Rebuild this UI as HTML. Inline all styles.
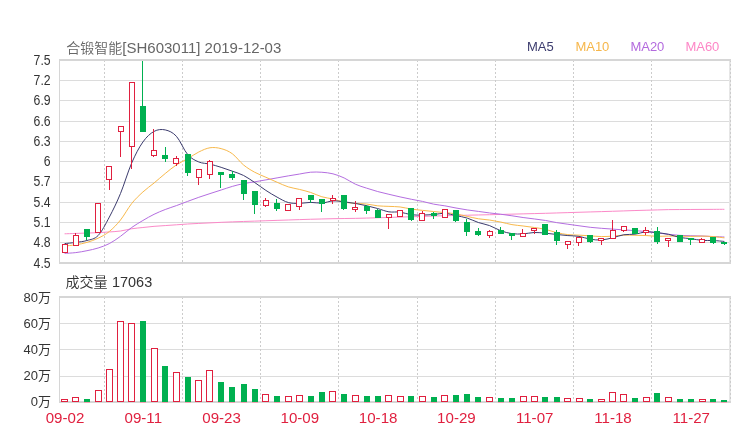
<!DOCTYPE html>
<html><head><meta charset="utf-8"><style>
html,body{margin:0;padding:0;background:#fff;}
body{width:740px;height:440px;overflow:hidden;}
svg{display:block;will-change:transform;}
text{font-family:'Liberation Sans', 'Noto Sans CJK SC', sans-serif;}
.yl{font-size:14.4px;fill:#333;}
.vl{font-size:13px;fill:#333;}
.xl{font-size:15.5px;fill:#e0203f;}
.title{font-size:15px;fill:#666;}
.vt{font-size:15px;fill:#333;}
.lg{font-size:13px;}
.cjk14{font-size:14px;font-weight:350;}
</style></head><body>
<svg width="740" height="440" viewBox="0 0 740 440">
<rect width="740" height="440" fill="#fff"/>
<rect x="60" y="80" width="669" height="1" fill="#dcdcdc"/>
<rect x="60" y="100" width="669" height="1" fill="#dcdcdc"/>
<rect x="60" y="121" width="669" height="1" fill="#dcdcdc"/>
<rect x="60" y="141" width="669" height="1" fill="#dcdcdc"/>
<rect x="60" y="161" width="669" height="1" fill="#dcdcdc"/>
<rect x="60" y="182" width="669" height="1" fill="#dcdcdc"/>
<rect x="60" y="202" width="669" height="1" fill="#dcdcdc"/>
<rect x="60" y="222" width="669" height="1" fill="#dcdcdc"/>
<rect x="60" y="242" width="669" height="1" fill="#dcdcdc"/>
<rect x="60" y="323" width="669" height="1" fill="#dcdcdc"/>
<rect x="60" y="349" width="669" height="1" fill="#dcdcdc"/>
<rect x="60" y="376" width="669" height="1" fill="#dcdcdc"/>
<rect x="729" y="59" width="2" height="205" fill="#e6e6e6"/>
<rect x="729" y="296" width="2" height="107" fill="#e6e6e6"/>
<line x1="104.5" y1="60" x2="104.5" y2="262" stroke="#cccccc" stroke-dasharray="2,2"/>
<line x1="104.5" y1="297" x2="104.5" y2="401" stroke="#cccccc" stroke-dasharray="2,2"/>
<line x1="182.5" y1="60" x2="182.5" y2="262" stroke="#cccccc" stroke-dasharray="2,2"/>
<line x1="182.5" y1="297" x2="182.5" y2="401" stroke="#cccccc" stroke-dasharray="2,2"/>
<line x1="260.5" y1="60" x2="260.5" y2="262" stroke="#cccccc" stroke-dasharray="2,2"/>
<line x1="260.5" y1="297" x2="260.5" y2="401" stroke="#cccccc" stroke-dasharray="2,2"/>
<line x1="338.5" y1="60" x2="338.5" y2="262" stroke="#cccccc" stroke-dasharray="2,2"/>
<line x1="338.5" y1="297" x2="338.5" y2="401" stroke="#cccccc" stroke-dasharray="2,2"/>
<line x1="417.5" y1="60" x2="417.5" y2="262" stroke="#cccccc" stroke-dasharray="2,2"/>
<line x1="417.5" y1="297" x2="417.5" y2="401" stroke="#cccccc" stroke-dasharray="2,2"/>
<line x1="495.5" y1="60" x2="495.5" y2="262" stroke="#cccccc" stroke-dasharray="2,2"/>
<line x1="495.5" y1="297" x2="495.5" y2="401" stroke="#cccccc" stroke-dasharray="2,2"/>
<line x1="573.5" y1="60" x2="573.5" y2="262" stroke="#cccccc" stroke-dasharray="2,2"/>
<line x1="573.5" y1="297" x2="573.5" y2="401" stroke="#cccccc" stroke-dasharray="2,2"/>
<line x1="651.5" y1="60" x2="651.5" y2="262" stroke="#cccccc" stroke-dasharray="2,2"/>
<line x1="651.5" y1="297" x2="651.5" y2="401" stroke="#cccccc" stroke-dasharray="2,2"/>
<line x1="730.5" y1="60" x2="730.5" y2="262" stroke="#cccccc" stroke-dasharray="2,2"/>
<line x1="730.5" y1="297" x2="730.5" y2="401" stroke="#cccccc" stroke-dasharray="2,2"/>
<rect x="59" y="59" width="672" height="2" fill="#d6d6d6"/>
<rect x="59" y="262" width="672" height="2" fill="#d6d6d6"/>
<rect x="59" y="59" width="1" height="205" fill="#d6d6d6"/>
<rect x="59" y="296" width="672" height="2" fill="#d6d6d6"/>
<rect x="59" y="401" width="672" height="2" fill="#d6d6d6"/>
<rect x="59" y="296" width="1" height="107" fill="#d6d6d6"/>
<path d="M64.59,233.80 C66.46,233.74 72.05,233.56 75.78,233.43 C79.50,233.31 83.23,233.17 86.96,233.05 C90.69,232.92 94.41,232.84 98.14,232.66 C101.87,232.48 105.60,232.24 109.33,231.96 C113.05,231.68 116.78,231.53 120.51,231.00 C124.24,230.47 127.96,229.36 131.69,228.78 C135.42,228.20 139.15,227.90 142.88,227.50 C146.60,227.09 150.33,226.66 154.06,226.33 C157.79,226.01 161.51,225.83 165.24,225.57 C168.97,225.31 172.70,225.06 176.43,224.80 C180.15,224.54 183.88,224.23 187.61,224.00 C191.34,223.77 195.06,223.61 198.79,223.42 C202.52,223.24 206.25,223.06 209.97,222.88 C213.70,222.70 217.43,222.50 221.16,222.33 C224.89,222.16 228.61,222.00 232.34,221.86 C236.07,221.71 239.80,221.61 243.53,221.48 C247.25,221.36 250.98,221.23 254.71,221.11 C258.44,220.99 262.16,220.86 265.89,220.74 C269.62,220.61 273.35,220.49 277.08,220.36 C280.80,220.24 284.53,220.12 288.26,219.99 C291.99,219.87 295.71,219.74 299.44,219.62 C303.17,219.50 306.90,219.37 310.62,219.26 C314.35,219.15 318.08,219.07 321.81,218.98 C325.54,218.89 329.26,218.78 332.99,218.70 C336.72,218.62 340.45,218.59 344.18,218.53 C347.90,218.47 351.63,218.43 355.36,218.36 C359.09,218.28 362.81,218.18 366.54,218.08 C370.27,217.98 374.00,217.86 377.73,217.75 C381.45,217.64 385.18,217.53 388.91,217.42 C392.64,217.31 396.36,217.20 400.09,217.09 C403.82,216.98 407.55,216.87 411.28,216.76 C415.00,216.65 418.73,216.54 422.46,216.42 C426.19,216.31 429.91,216.18 433.64,216.06 C437.37,215.94 441.10,215.81 444.82,215.71 C448.55,215.60 452.28,215.54 456.01,215.46 C459.74,215.37 463.46,215.29 467.19,215.21 C470.92,215.12 474.65,215.04 478.38,214.96 C482.10,214.88 485.83,214.80 489.56,214.71 C493.29,214.62 497.01,214.52 500.74,214.43 C504.47,214.34 508.20,214.25 511.93,214.15 C515.65,214.06 519.38,213.97 523.11,213.87 C526.84,213.78 530.56,213.69 534.29,213.59 C538.02,213.50 541.75,213.42 545.48,213.31 C549.20,213.21 552.93,213.08 556.66,212.96 C560.39,212.84 564.11,212.72 567.84,212.61 C571.57,212.49 575.30,212.39 579.02,212.28 C582.75,212.17 586.48,212.06 590.21,211.95 C593.94,211.84 597.66,211.73 601.39,211.62 C605.12,211.51 608.85,211.40 612.58,211.28 C616.30,211.16 620.03,211.03 623.76,210.91 C627.49,210.78 631.21,210.65 634.94,210.54 C638.67,210.42 642.40,210.33 646.12,210.22 C649.85,210.12 653.58,210.02 657.31,209.92 C661.04,209.82 664.76,209.68 668.49,209.61 C672.22,209.55 675.95,209.56 679.68,209.54 C683.40,209.52 687.13,209.50 690.86,209.48 C694.59,209.46 698.31,209.44 702.04,209.42 C705.77,209.40 709.50,209.38 713.23,209.36 C716.95,209.34 722.54,209.31 724.41,209.30" fill="none" stroke="#fb8ac8" stroke-width="1"/>
<path d="M64.59,253.40 C66.46,253.27 72.05,253.05 75.78,252.60 C79.50,252.15 83.23,251.47 86.96,250.70 C90.69,249.93 94.41,249.18 98.14,248.00 C101.87,246.82 105.60,245.55 109.33,243.60 C113.05,241.65 116.78,238.98 120.51,236.30 C124.24,233.62 127.96,230.13 131.69,227.50 C135.42,224.87 139.15,222.70 142.88,220.50 C146.60,218.30 150.33,216.13 154.06,214.30 C157.79,212.47 161.51,210.95 165.24,209.50 C168.97,208.05 172.70,206.95 176.43,205.60 C180.15,204.25 183.88,202.78 187.61,201.40 C191.34,200.02 195.06,198.60 198.79,197.30 C202.52,196.00 206.25,194.82 209.97,193.60 C213.70,192.38 217.43,191.20 221.16,190.00 C224.89,188.80 228.61,187.47 232.34,186.40 C236.07,185.33 239.80,184.37 243.53,183.60 C247.25,182.83 250.98,182.42 254.71,181.80 C258.44,181.18 262.16,180.55 265.89,179.90 C269.62,179.25 273.35,178.55 277.08,177.88 C280.80,177.20 284.53,176.51 288.26,175.88 C291.99,175.24 295.71,174.67 299.44,174.06 C303.17,173.45 306.90,172.52 310.62,172.21 C314.35,171.91 318.08,171.99 321.81,172.25 C325.54,172.52 329.26,172.88 332.99,173.83 C336.72,174.78 340.45,176.24 344.18,177.96 C347.90,179.69 351.63,182.48 355.36,184.18 C359.09,185.88 362.81,186.91 366.54,188.13 C370.27,189.36 374.00,190.52 377.73,191.55 C381.45,192.57 385.18,193.42 388.91,194.31 C392.64,195.20 396.36,196.08 400.09,196.90 C403.82,197.73 407.55,198.50 411.28,199.25 C415.00,200.00 418.73,200.59 422.46,201.40 C426.19,202.22 429.91,203.40 433.64,204.14 C437.37,204.88 441.10,205.18 444.82,205.82 C448.55,206.47 452.28,207.33 456.01,208.01 C459.74,208.69 463.46,209.34 467.19,209.91 C470.92,210.47 474.65,210.90 478.38,211.41 C482.10,211.91 485.83,212.47 489.56,212.94 C493.29,213.40 497.01,213.74 500.74,214.22 C504.47,214.70 508.20,215.24 511.93,215.79 C515.65,216.34 519.38,217.01 523.11,217.53 C526.84,218.06 530.56,218.45 534.29,218.94 C538.02,219.42 541.75,219.85 545.48,220.46 C549.20,221.07 552.93,221.98 556.66,222.61 C560.39,223.24 564.11,223.70 567.84,224.23 C571.57,224.76 575.30,225.25 579.02,225.77 C582.75,226.28 586.48,226.89 590.21,227.31 C593.94,227.73 597.66,228.01 601.39,228.30 C605.12,228.60 608.85,228.84 612.58,229.10 C616.30,229.37 620.03,229.64 623.76,229.89 C627.49,230.15 631.21,230.36 634.94,230.63 C638.67,230.90 642.40,231.15 646.12,231.52 C649.85,231.89 653.58,232.38 657.31,232.85 C661.04,233.32 664.76,233.91 668.49,234.33 C672.22,234.75 675.95,235.11 679.68,235.35 C683.40,235.60 687.13,235.67 690.86,235.78 C694.59,235.88 698.31,235.86 702.04,235.99 C705.77,236.12 709.50,236.41 713.23,236.58 C716.95,236.75 722.54,236.93 724.41,237.00" fill="none" stroke="#b46ee0" stroke-width="1"/>
<path d="M64.59,246.00 C66.46,245.80 72.05,245.40 75.78,244.80 C79.50,244.20 83.23,243.50 86.96,242.40 C90.69,241.30 94.41,240.02 98.14,238.20 C101.87,236.38 105.60,234.53 109.33,231.50 C113.05,228.47 116.78,224.67 120.51,220.00 C124.24,215.33 127.96,208.17 131.69,203.50 C135.42,198.83 139.15,195.42 142.88,192.00 C146.60,188.58 150.33,186.08 154.06,183.00 C157.79,179.92 161.51,176.53 165.24,173.51 C168.97,170.49 172.70,167.37 176.43,164.90 C180.15,162.43 183.88,160.86 187.61,158.71 C191.34,156.56 195.06,153.82 198.79,151.99 C202.52,150.17 206.25,148.32 209.97,147.76 C213.70,147.20 217.43,147.63 221.16,148.63 C224.89,149.63 228.61,151.03 232.34,153.75 C236.07,156.47 239.80,161.87 243.53,164.95 C247.25,168.03 250.98,170.19 254.71,172.24 C258.44,174.29 262.16,175.59 265.89,177.26 C269.62,178.93 273.35,180.64 277.08,182.24 C280.80,183.84 284.53,185.66 288.26,186.85 C291.99,188.05 295.71,188.48 299.44,189.41 C303.17,190.34 306.90,191.22 310.62,192.44 C314.35,193.66 318.08,195.65 321.81,196.75 C325.54,197.85 329.26,198.13 332.99,199.03 C336.72,199.93 340.45,201.44 344.18,202.17 C347.90,202.90 351.63,203.10 355.36,203.41 C359.09,203.72 362.81,203.63 366.54,204.03 C370.27,204.43 374.00,205.44 377.73,205.83 C381.45,206.22 385.18,206.19 388.91,206.38 C392.64,206.57 396.36,206.51 400.09,206.96 C403.82,207.41 407.55,208.51 411.28,209.08 C415.00,209.65 418.73,209.96 422.46,210.37 C426.19,210.78 429.91,211.16 433.64,211.53 C437.37,211.90 441.10,212.22 444.82,212.61 C448.55,213.00 452.28,213.22 456.01,213.85 C459.74,214.48 463.46,215.58 467.19,216.40 C470.92,217.22 474.65,218.17 478.38,218.78 C482.10,219.39 485.83,219.49 489.56,220.04 C493.29,220.59 497.01,221.30 500.74,222.06 C504.47,222.82 508.20,223.97 511.93,224.62 C515.65,225.28 519.38,225.51 523.11,225.99 C526.84,226.47 530.56,226.93 534.29,227.50 C538.02,228.07 541.75,228.54 545.48,229.39 C549.20,230.24 552.93,231.74 556.66,232.61 C560.39,233.48 564.11,234.19 567.84,234.61 C571.57,235.03 575.30,234.93 579.02,235.13 C582.75,235.34 586.48,235.60 590.21,235.84 C593.94,236.08 597.66,236.52 601.39,236.57 C605.12,236.62 608.85,236.37 612.58,236.14 C616.30,235.91 620.03,235.31 623.76,235.17 C627.49,235.02 631.21,235.21 634.94,235.27 C638.67,235.33 642.40,235.37 646.12,235.54 C649.85,235.71 653.58,236.23 657.31,236.31 C661.04,236.40 664.76,236.09 668.49,236.05 C672.22,236.02 675.95,236.04 679.68,236.10 C683.40,236.16 687.13,236.41 690.86,236.42 C694.59,236.43 698.31,236.11 702.04,236.14 C705.77,236.17 709.50,236.30 713.23,236.59 C716.95,236.88 722.54,237.66 724.41,237.87" fill="none" stroke="#f8b94c" stroke-width="1"/>
<path d="M64.59,243.60 C66.46,243.40 72.05,242.92 75.78,242.40 C79.50,241.88 83.23,241.65 86.96,240.50 C90.69,239.35 94.41,239.40 98.14,235.50 C101.87,231.60 105.60,224.10 109.33,217.10 C113.05,210.10 116.78,202.50 120.51,193.48 C124.24,184.46 127.96,171.54 131.69,162.96 C135.42,154.38 139.15,147.28 142.88,142.02 C146.60,136.76 150.33,133.42 154.06,131.40 C157.79,129.38 161.51,129.10 165.24,129.92 C168.97,130.74 172.70,132.23 176.43,136.32 C180.15,140.41 183.88,150.19 187.61,154.46 C191.34,158.73 195.06,160.35 198.79,161.96 C202.52,163.57 206.25,163.22 209.97,164.12 C213.70,165.02 217.43,166.16 221.16,167.34 C224.89,168.52 228.61,169.83 232.34,171.18 C236.07,172.53 239.80,173.55 243.53,175.44 C247.25,177.33 250.98,180.03 254.71,182.52 C258.44,185.01 262.16,187.96 265.89,190.40 C269.62,192.84 273.35,195.12 277.08,197.14 C280.80,199.16 284.53,201.48 288.26,202.52 C291.99,203.56 295.71,203.41 299.44,203.38 C303.17,203.35 306.90,202.41 310.62,202.36 C314.35,202.31 318.08,203.34 321.81,203.10 C325.54,202.86 329.26,201.13 332.99,200.92 C336.72,200.71 340.45,201.40 344.18,201.82 C347.90,202.24 351.63,202.79 355.36,203.44 C359.09,204.09 362.81,204.85 366.54,205.70 C370.27,206.55 374.00,207.54 377.73,208.56 C381.45,209.58 385.18,211.25 388.91,211.84 C392.64,212.43 396.36,211.62 400.09,212.10 C403.82,212.58 407.55,214.23 411.28,214.72 C415.00,215.21 418.73,215.08 422.46,215.04 C426.19,215.00 429.91,214.78 433.64,214.50 C437.37,214.22 441.10,213.20 444.82,213.38 C448.55,213.56 452.28,214.82 456.01,215.60 C459.74,216.38 463.46,216.93 467.19,218.08 C470.92,219.23 474.65,221.27 478.38,222.52 C482.10,223.77 485.83,224.21 489.56,225.58 C493.29,226.95 497.01,229.40 500.74,230.74 C504.47,232.08 508.20,233.11 511.93,233.64 C515.65,234.17 519.38,234.09 523.11,233.90 C526.84,233.71 530.56,232.60 534.29,232.48 C538.02,232.36 541.75,232.87 545.48,233.20 C549.20,233.53 552.93,234.08 556.66,234.48 C560.39,234.88 564.11,235.27 567.84,235.58 C571.57,235.89 575.30,235.76 579.02,236.36 C582.75,236.96 586.48,238.60 590.21,239.20 C593.94,239.80 597.66,240.17 601.39,239.94 C605.12,239.71 608.85,238.66 612.58,237.80 C616.30,236.94 620.03,235.36 623.76,234.76 C627.49,234.16 631.21,234.66 634.94,234.18 C638.67,233.70 642.40,232.13 646.12,231.88 C649.85,231.63 653.58,232.28 657.31,232.68 C661.04,233.08 664.76,233.51 668.49,234.30 C672.22,235.09 675.95,236.71 679.68,237.44 C683.40,238.17 687.13,238.17 690.86,238.66 C694.59,239.15 698.31,240.09 702.04,240.40 C705.77,240.71 709.50,240.33 713.23,240.50 C716.95,240.67 722.54,241.28 724.41,241.44" fill="none" stroke="#3c3c6e" stroke-width="1"/>
<rect x="64.0" y="252.0" width="1" height="1.0" fill="#e0203f"/>
<rect x="62.5" y="244.5" width="5" height="8.0" fill="#fff" stroke="#e0203f" stroke-width="1"/>
<rect x="75.0" y="233.0" width="1" height="2.0" fill="#e0203f"/>
<rect x="73.5" y="235.5" width="5" height="10.0" fill="#fff" stroke="#e0203f" stroke-width="1"/>
<rect x="86.0" y="229" width="1" height="11" fill="#00b050"/>
<rect x="84" y="229" width="6" height="8" fill="#00b050"/>
<rect x="95.5" y="203.5" width="5" height="29.0" fill="#fff" stroke="#e0203f" stroke-width="1"/>
<rect x="109.0" y="179.0" width="1" height="11.0" fill="#e0203f"/>
<rect x="106.5" y="166.5" width="5" height="13.0" fill="#fff" stroke="#e0203f" stroke-width="1"/>
<rect x="120.0" y="131.0" width="1" height="26.0" fill="#e0203f"/>
<rect x="118.5" y="126.5" width="5" height="5.0" fill="#fff" stroke="#e0203f" stroke-width="1"/>
<rect x="131.0" y="146.0" width="1" height="23.0" fill="#e0203f"/>
<rect x="129.5" y="82.5" width="5" height="64.0" fill="#fff" stroke="#e0203f" stroke-width="1"/>
<rect x="142.0" y="61" width="1" height="71" fill="#00b050"/>
<rect x="140" y="106" width="6" height="26" fill="#00b050"/>
<rect x="153.0" y="129.0" width="1" height="21.0" fill="#e0203f"/>
<rect x="153.0" y="155.0" width="1" height="2.0" fill="#e0203f"/>
<rect x="151.5" y="150.5" width="5" height="5.0" fill="#fff" stroke="#e0203f" stroke-width="1"/>
<rect x="165.0" y="147" width="1" height="15" fill="#00b050"/>
<rect x="162" y="155" width="6" height="4" fill="#00b050"/>
<rect x="176.0" y="156.0" width="1" height="2.0" fill="#e0203f"/>
<rect x="176.0" y="163.0" width="1" height="3.0" fill="#e0203f"/>
<rect x="173.5" y="158.5" width="5" height="5.0" fill="#fff" stroke="#e0203f" stroke-width="1"/>
<rect x="187.0" y="154" width="1" height="22" fill="#00b050"/>
<rect x="185" y="154" width="6" height="19" fill="#00b050"/>
<rect x="198.0" y="177.0" width="1" height="8.0" fill="#e0203f"/>
<rect x="196.5" y="169.5" width="5" height="8.0" fill="#fff" stroke="#e0203f" stroke-width="1"/>
<rect x="209.0" y="160.0" width="1" height="1.0" fill="#e0203f"/>
<rect x="209.0" y="174.0" width="1" height="5.0" fill="#e0203f"/>
<rect x="207.5" y="161.5" width="5" height="13.0" fill="#fff" stroke="#e0203f" stroke-width="1"/>
<rect x="220.0" y="172" width="1" height="16" fill="#00b050"/>
<rect x="218" y="172" width="6" height="3" fill="#00b050"/>
<rect x="232.0" y="171" width="1" height="9" fill="#00b050"/>
<rect x="229" y="174" width="6" height="4" fill="#00b050"/>
<rect x="243.0" y="180" width="1" height="20" fill="#00b050"/>
<rect x="241" y="180" width="6" height="14" fill="#00b050"/>
<rect x="254.0" y="191" width="1" height="23" fill="#00b050"/>
<rect x="252" y="191" width="6" height="14" fill="#00b050"/>
<rect x="265.0" y="198.0" width="1" height="2.0" fill="#e0203f"/>
<rect x="265.0" y="205.0" width="1" height="2.0" fill="#e0203f"/>
<rect x="263.5" y="200.5" width="5" height="5.0" fill="#fff" stroke="#e0203f" stroke-width="1"/>
<rect x="276.0" y="199" width="1" height="12" fill="#00b050"/>
<rect x="274" y="203" width="6" height="6" fill="#00b050"/>
<rect x="288.0" y="210.0" width="1" height="1.0" fill="#e0203f"/>
<rect x="285.5" y="204.5" width="5" height="6.0" fill="#fff" stroke="#e0203f" stroke-width="1"/>
<rect x="299.0" y="206.0" width="1" height="4.0" fill="#e0203f"/>
<rect x="296.5" y="198.5" width="5" height="8.0" fill="#fff" stroke="#e0203f" stroke-width="1"/>
<rect x="310.0" y="195" width="1" height="8" fill="#00b050"/>
<rect x="308" y="195" width="6" height="5" fill="#00b050"/>
<rect x="321.0" y="199" width="1" height="13" fill="#00b050"/>
<rect x="319" y="199" width="6" height="5" fill="#00b050"/>
<rect x="332.0" y="195.0" width="1" height="3.0" fill="#e0203f"/>
<rect x="332.0" y="200.0" width="1" height="4.0" fill="#e0203f"/>
<rect x="330.5" y="198.5" width="5" height="2.0" fill="#fff" stroke="#e0203f" stroke-width="1"/>
<rect x="343.0" y="195" width="1" height="15" fill="#00b050"/>
<rect x="341" y="195" width="6" height="14" fill="#00b050"/>
<rect x="355.0" y="201.0" width="1" height="6.0" fill="#e0203f"/>
<rect x="355.0" y="209.0" width="1" height="3.0" fill="#e0203f"/>
<rect x="352.5" y="207.5" width="5" height="2.0" fill="#fff" stroke="#e0203f" stroke-width="1"/>
<rect x="366.0" y="205" width="1" height="9" fill="#00b050"/>
<rect x="364" y="206" width="6" height="5" fill="#00b050"/>
<rect x="377.0" y="209" width="1" height="9" fill="#00b050"/>
<rect x="375" y="210" width="6" height="8" fill="#00b050"/>
<rect x="388.0" y="217.0" width="1" height="12.0" fill="#e0203f"/>
<rect x="386.5" y="214.5" width="5" height="3.0" fill="#fff" stroke="#e0203f" stroke-width="1"/>
<rect x="397.5" y="210.5" width="5" height="6.0" fill="#fff" stroke="#e0203f" stroke-width="1"/>
<rect x="411.0" y="208" width="1" height="13" fill="#00b050"/>
<rect x="408" y="208" width="6" height="12" fill="#00b050"/>
<rect x="422.0" y="211.0" width="1" height="2.0" fill="#e0203f"/>
<rect x="419.5" y="213.5" width="5" height="7.0" fill="#fff" stroke="#e0203f" stroke-width="1"/>
<rect x="433.0" y="212" width="1" height="7" fill="#00b050"/>
<rect x="431" y="213" width="6" height="3" fill="#00b050"/>
<rect x="442.5" y="209.5" width="5" height="8.0" fill="#fff" stroke="#e0203f" stroke-width="1"/>
<rect x="455.0" y="210" width="1" height="12" fill="#00b050"/>
<rect x="453" y="210" width="6" height="11" fill="#00b050"/>
<rect x="466.0" y="219" width="1" height="17" fill="#00b050"/>
<rect x="464" y="222" width="6" height="10" fill="#00b050"/>
<rect x="478.0" y="228" width="1" height="8" fill="#00b050"/>
<rect x="475" y="231" width="6" height="4" fill="#00b050"/>
<rect x="489.0" y="230.0" width="1" height="1.0" fill="#e0203f"/>
<rect x="489.0" y="235.0" width="1" height="3.0" fill="#e0203f"/>
<rect x="487.5" y="231.5" width="5" height="4.0" fill="#fff" stroke="#e0203f" stroke-width="1"/>
<rect x="500.0" y="227" width="1" height="7" fill="#00b050"/>
<rect x="498" y="230" width="6" height="4" fill="#00b050"/>
<rect x="511.0" y="233" width="1" height="7" fill="#00b050"/>
<rect x="509" y="233" width="6" height="3" fill="#00b050"/>
<rect x="522.0" y="229.0" width="1" height="4.0" fill="#e0203f"/>
<rect x="520.5" y="233.5" width="5" height="3.0" fill="#fff" stroke="#e0203f" stroke-width="1"/>
<rect x="534.0" y="230.0" width="1" height="4.0" fill="#e0203f"/>
<rect x="531.5" y="228.5" width="5" height="2.0" fill="#fff" stroke="#e0203f" stroke-width="1"/>
<rect x="545.0" y="224" width="1" height="11" fill="#00b050"/>
<rect x="542" y="224" width="6" height="11" fill="#00b050"/>
<rect x="556.0" y="230" width="1" height="15" fill="#00b050"/>
<rect x="554" y="232" width="6" height="9" fill="#00b050"/>
<rect x="567.0" y="244.0" width="1" height="5.0" fill="#e0203f"/>
<rect x="565.5" y="241.5" width="5" height="3.0" fill="#fff" stroke="#e0203f" stroke-width="1"/>
<rect x="578.0" y="242.0" width="1" height="4.0" fill="#e0203f"/>
<rect x="576.5" y="237.5" width="5" height="5.0" fill="#fff" stroke="#e0203f" stroke-width="1"/>
<rect x="590.0" y="235" width="1" height="8" fill="#00b050"/>
<rect x="587" y="235" width="6" height="7" fill="#00b050"/>
<rect x="601.0" y="238.0" width="1" height="0.0" fill="#e0203f"/>
<rect x="601.0" y="240.0" width="1" height="5.0" fill="#e0203f"/>
<rect x="598.5" y="238.5" width="5" height="2.0" fill="#fff" stroke="#e0203f" stroke-width="1"/>
<rect x="612.0" y="220.0" width="1" height="10.0" fill="#e0203f"/>
<rect x="610.5" y="230.5" width="5" height="8.0" fill="#fff" stroke="#e0203f" stroke-width="1"/>
<rect x="623.0" y="230.0" width="1" height="2.0" fill="#e0203f"/>
<rect x="621.5" y="226.5" width="5" height="4.0" fill="#fff" stroke="#e0203f" stroke-width="1"/>
<rect x="634.0" y="228" width="1" height="6" fill="#00b050"/>
<rect x="632" y="228" width="6" height="6" fill="#00b050"/>
<rect x="645.0" y="227.0" width="1" height="3.0" fill="#e0203f"/>
<rect x="645.0" y="232.0" width="1" height="3.0" fill="#e0203f"/>
<rect x="643.5" y="230.5" width="5" height="2.0" fill="#fff" stroke="#e0203f" stroke-width="1"/>
<rect x="657.0" y="227" width="1" height="17" fill="#00b050"/>
<rect x="654" y="231" width="6" height="11" fill="#00b050"/>
<rect x="668.0" y="240.0" width="1" height="7.0" fill="#e0203f"/>
<rect x="665.5" y="238.5" width="5" height="2.0" fill="#fff" stroke="#e0203f" stroke-width="1"/>
<rect x="679.0" y="235" width="1" height="7" fill="#00b050"/>
<rect x="677" y="235" width="6" height="7" fill="#00b050"/>
<rect x="690.0" y="238" width="1" height="7" fill="#00b050"/>
<rect x="688" y="238" width="6" height="2" fill="#00b050"/>
<rect x="701.0" y="238.0" width="1" height="1.0" fill="#e0203f"/>
<rect x="699.5" y="239.5" width="5" height="3.0" fill="#fff" stroke="#e0203f" stroke-width="1"/>
<rect x="713.0" y="237" width="1" height="7" fill="#00b050"/>
<rect x="710" y="237" width="6" height="6" fill="#00b050"/>
<rect x="724.0" y="242" width="1" height="3" fill="#00b050"/>
<rect x="721" y="242" width="6" height="2" fill="#00b050"/>
<rect x="61.5" y="399.5" width="6" height="2" fill="#fff" stroke="#e0203f" stroke-width="1"/>
<rect x="72.5" y="397.5" width="6" height="4" fill="#fff" stroke="#e0203f" stroke-width="1"/>
<rect x="84" y="399" width="6" height="3" fill="#00b050"/>
<rect x="84" y="402" width="6" height="1" fill="#f3a3b3"/>
<rect x="95.5" y="390.5" width="6" height="11" fill="#fff" stroke="#e0203f" stroke-width="1"/>
<rect x="106.5" y="369.5" width="6" height="32" fill="#fff" stroke="#e0203f" stroke-width="1"/>
<rect x="117.5" y="321.5" width="6" height="80" fill="#fff" stroke="#e0203f" stroke-width="1"/>
<rect x="128.5" y="323.5" width="6" height="78" fill="#fff" stroke="#e0203f" stroke-width="1"/>
<rect x="140" y="321" width="6" height="81" fill="#00b050"/>
<rect x="140" y="402" width="6" height="1" fill="#f3a3b3"/>
<rect x="151.5" y="348.5" width="6" height="53" fill="#fff" stroke="#e0203f" stroke-width="1"/>
<rect x="162" y="366" width="6" height="36" fill="#00b050"/>
<rect x="162" y="402" width="6" height="1" fill="#f3a3b3"/>
<rect x="173.5" y="372.5" width="6" height="29" fill="#fff" stroke="#e0203f" stroke-width="1"/>
<rect x="185" y="377" width="6" height="25" fill="#00b050"/>
<rect x="185" y="402" width="6" height="1" fill="#f3a3b3"/>
<rect x="195.5" y="380.5" width="6" height="21" fill="#fff" stroke="#e0203f" stroke-width="1"/>
<rect x="206.5" y="370.5" width="6" height="31" fill="#fff" stroke="#e0203f" stroke-width="1"/>
<rect x="218" y="382" width="6" height="20" fill="#00b050"/>
<rect x="218" y="402" width="6" height="1" fill="#f3a3b3"/>
<rect x="229" y="387" width="6" height="15" fill="#00b050"/>
<rect x="229" y="402" width="6" height="1" fill="#f3a3b3"/>
<rect x="241" y="384" width="6" height="18" fill="#00b050"/>
<rect x="241" y="402" width="6" height="1" fill="#f3a3b3"/>
<rect x="252" y="389" width="6" height="13" fill="#00b050"/>
<rect x="252" y="402" width="6" height="1" fill="#f3a3b3"/>
<rect x="262.5" y="394.5" width="6" height="7" fill="#fff" stroke="#e0203f" stroke-width="1"/>
<rect x="274" y="396" width="6" height="6" fill="#00b050"/>
<rect x="274" y="402" width="6" height="1" fill="#f3a3b3"/>
<rect x="285.5" y="396.5" width="6" height="5" fill="#fff" stroke="#e0203f" stroke-width="1"/>
<rect x="296.5" y="395.5" width="6" height="6" fill="#fff" stroke="#e0203f" stroke-width="1"/>
<rect x="308" y="396" width="6" height="6" fill="#00b050"/>
<rect x="308" y="402" width="6" height="1" fill="#f3a3b3"/>
<rect x="319" y="392" width="6" height="10" fill="#00b050"/>
<rect x="319" y="402" width="6" height="1" fill="#f3a3b3"/>
<rect x="329.5" y="391.5" width="6" height="10" fill="#fff" stroke="#e0203f" stroke-width="1"/>
<rect x="341" y="394" width="6" height="8" fill="#00b050"/>
<rect x="341" y="402" width="6" height="1" fill="#f3a3b3"/>
<rect x="352.5" y="395.5" width="6" height="6" fill="#fff" stroke="#e0203f" stroke-width="1"/>
<rect x="364" y="396" width="6" height="6" fill="#00b050"/>
<rect x="364" y="402" width="6" height="1" fill="#f3a3b3"/>
<rect x="375" y="396" width="6" height="6" fill="#00b050"/>
<rect x="375" y="402" width="6" height="1" fill="#f3a3b3"/>
<rect x="385.5" y="395.5" width="6" height="6" fill="#fff" stroke="#e0203f" stroke-width="1"/>
<rect x="397.5" y="396.5" width="6" height="5" fill="#fff" stroke="#e0203f" stroke-width="1"/>
<rect x="408" y="396" width="6" height="6" fill="#00b050"/>
<rect x="408" y="402" width="6" height="1" fill="#f3a3b3"/>
<rect x="419.5" y="396.5" width="6" height="5" fill="#fff" stroke="#e0203f" stroke-width="1"/>
<rect x="431" y="397" width="6" height="5" fill="#00b050"/>
<rect x="431" y="402" width="6" height="1" fill="#f3a3b3"/>
<rect x="441.5" y="395.5" width="6" height="6" fill="#fff" stroke="#e0203f" stroke-width="1"/>
<rect x="453" y="395" width="6" height="7" fill="#00b050"/>
<rect x="453" y="402" width="6" height="1" fill="#f3a3b3"/>
<rect x="464" y="394" width="6" height="8" fill="#00b050"/>
<rect x="464" y="402" width="6" height="1" fill="#f3a3b3"/>
<rect x="475" y="397" width="6" height="5" fill="#00b050"/>
<rect x="475" y="402" width="6" height="1" fill="#f3a3b3"/>
<rect x="486.5" y="397.5" width="6" height="4" fill="#fff" stroke="#e0203f" stroke-width="1"/>
<rect x="498" y="398" width="6" height="4" fill="#00b050"/>
<rect x="498" y="402" width="6" height="1" fill="#f3a3b3"/>
<rect x="509" y="398" width="6" height="4" fill="#00b050"/>
<rect x="509" y="402" width="6" height="1" fill="#f3a3b3"/>
<rect x="520.5" y="396.5" width="6" height="5" fill="#fff" stroke="#e0203f" stroke-width="1"/>
<rect x="531.5" y="396.5" width="6" height="5" fill="#fff" stroke="#e0203f" stroke-width="1"/>
<rect x="542" y="397" width="6" height="5" fill="#00b050"/>
<rect x="542" y="402" width="6" height="1" fill="#f3a3b3"/>
<rect x="554" y="397" width="6" height="5" fill="#00b050"/>
<rect x="554" y="402" width="6" height="1" fill="#f3a3b3"/>
<rect x="564.5" y="398.5" width="6" height="3" fill="#fff" stroke="#e0203f" stroke-width="1"/>
<rect x="576.5" y="398.5" width="6" height="3" fill="#fff" stroke="#e0203f" stroke-width="1"/>
<rect x="587" y="399" width="6" height="3" fill="#00b050"/>
<rect x="587" y="402" width="6" height="1" fill="#f3a3b3"/>
<rect x="598.5" y="399.5" width="6" height="2" fill="#fff" stroke="#e0203f" stroke-width="1"/>
<rect x="609.5" y="392.5" width="6" height="9" fill="#fff" stroke="#e0203f" stroke-width="1"/>
<rect x="620.5" y="394.5" width="6" height="7" fill="#fff" stroke="#e0203f" stroke-width="1"/>
<rect x="632" y="398" width="6" height="4" fill="#00b050"/>
<rect x="632" y="402" width="6" height="1" fill="#f3a3b3"/>
<rect x="643.5" y="397.5" width="6" height="4" fill="#fff" stroke="#e0203f" stroke-width="1"/>
<rect x="654" y="393" width="6" height="9" fill="#00b050"/>
<rect x="654" y="402" width="6" height="1" fill="#f3a3b3"/>
<rect x="665.5" y="397.5" width="6" height="4" fill="#fff" stroke="#e0203f" stroke-width="1"/>
<rect x="677" y="399" width="6" height="3" fill="#00b050"/>
<rect x="677" y="402" width="6" height="1" fill="#f3a3b3"/>
<rect x="688" y="399" width="6" height="3" fill="#00b050"/>
<rect x="688" y="402" width="6" height="1" fill="#f3a3b3"/>
<rect x="699.5" y="399.5" width="6" height="2" fill="#fff" stroke="#e0203f" stroke-width="1"/>
<rect x="710" y="399" width="6" height="3" fill="#00b050"/>
<rect x="710" y="402" width="6" height="1" fill="#f3a3b3"/>
<rect x="721" y="400" width="6" height="2" fill="#00b050"/>
<rect x="721" y="402" width="6" height="1" fill="#f3a3b3"/>
<text transform="translate(50.6,64.60) scale(0.85,1)" text-anchor="end" class="yl">7.5</text>
<text transform="translate(50.6,84.90) scale(0.85,1)" text-anchor="end" class="yl">7.2</text>
<text transform="translate(50.6,105.20) scale(0.85,1)" text-anchor="end" class="yl">6.9</text>
<text transform="translate(50.6,125.50) scale(0.85,1)" text-anchor="end" class="yl">6.6</text>
<text transform="translate(50.6,145.80) scale(0.85,1)" text-anchor="end" class="yl">6.3</text>
<text transform="translate(50.6,166.10) scale(0.85,1)" text-anchor="end" class="yl">6</text>
<text transform="translate(50.6,186.40) scale(0.85,1)" text-anchor="end" class="yl">5.7</text>
<text transform="translate(50.6,206.70) scale(0.85,1)" text-anchor="end" class="yl">5.4</text>
<text transform="translate(50.6,227.00) scale(0.85,1)" text-anchor="end" class="yl">5.1</text>
<text transform="translate(50.6,247.30) scale(0.85,1)" text-anchor="end" class="yl">4.8</text>
<text transform="translate(50.6,267.60) scale(0.85,1)" text-anchor="end" class="yl">4.5</text>
<text x="51" y="301.50" text-anchor="end" class="vl">80万</text>
<text x="51" y="327.70" text-anchor="end" class="vl">60万</text>
<text x="51" y="353.90" text-anchor="end" class="vl">40万</text>
<text x="51" y="380.10" text-anchor="end" class="vl">20万</text>
<text x="51" y="406.30" text-anchor="end" class="vl">0万</text>
<text transform="translate(64.99,422.6) scale(0.975,1)" text-anchor="middle" class="xl">09-02</text>
<text transform="translate(143.28,422.6) scale(0.975,1)" text-anchor="middle" class="xl">09-11</text>
<text transform="translate(221.56,422.6) scale(0.975,1)" text-anchor="middle" class="xl">09-23</text>
<text transform="translate(299.84,422.6) scale(0.975,1)" text-anchor="middle" class="xl">10-09</text>
<text transform="translate(378.12,422.6) scale(0.975,1)" text-anchor="middle" class="xl">10-18</text>
<text transform="translate(456.41,422.6) scale(0.975,1)" text-anchor="middle" class="xl">10-29</text>
<text transform="translate(534.69,422.6) scale(0.975,1)" text-anchor="middle" class="xl">11-07</text>
<text transform="translate(612.98,422.6) scale(0.975,1)" text-anchor="middle" class="xl">11-18</text>
<text transform="translate(691.26,422.6) scale(0.975,1)" text-anchor="middle" class="xl">11-27</text>
<text x="66.3" y="52.6" class="title"><tspan class="cjk14">合锻智能</tspan>[SH603011] 2019-12-03</text>
<text x="65.6" y="286.6" class="vt"><tspan class="cjk14">成交量</tspan></text>
<text transform="translate(112,286.6) scale(0.965,1)" class="vt">17063</text>
<text x="527.0" y="51.3" class="lg" fill="#3c3c6e">MA5</text>
<text x="575.4" y="51.3" class="lg" fill="#f6b64a">MA10</text>
<text x="630.4" y="51.3" class="lg" fill="#b36ade">MA20</text>
<text x="685.4" y="51.3" class="lg" fill="#fd86c6">MA60</text>
</svg>
</body></html>
